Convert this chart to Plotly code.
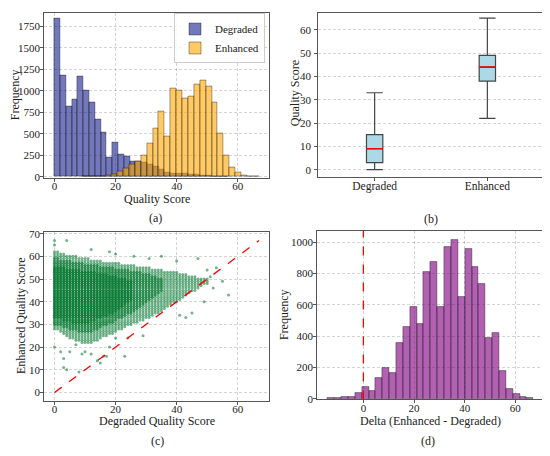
import plotly.graph_objects as go
from plotly.subplots import make_subplots

# ---- data ----
# (a) histograms, 30 bins each
deg_bin_start, deg_bin_width = 0.0, 1.9
deg_counts = [1845, 1175, 815, 905, 1165, 1000, 860, 670, 520, 225,
              400, 265, 240, 185, 185, 165, 140, 120, 85, 50,
              45, 40, 35, 30, 25, 20, 12, 8, 4, 2]
enh_bin_start, enh_bin_width = 9.0, 1.933
enh_counts = [2, 2, 3, 5, 15, 30, 60, 98, 150, 185,
              255, 385, 565, 760, 475, 1025, 1005, 910, 940, 1070,
              1120, 1055, 865, 500, 250, 115, 50, 20, 10, 5]

# (b) box statistics
box_labels = ["Degraded", "Enhanced"]
box_low = [0, 22]
box_q1 = [3, 38]
box_median = [9, 44]
box_q3 = [15, 49]
box_high = [33, 65]

# (c) scatter: per degraded score column, the band of enhanced scores
col_x = list(range(0, 51))
col_lo = [28, 28, 27, 26, 25, 24, 24, 23, 23, 22, 22, 22, 22, 23, 23, 24, 25, 25, 26, 26,
          27, 28, 28, 29, 30, 30, 31, 31, 32, 32, 33, 33, 34, 35, 35, 36, 37, 38, 39, 40,
          40, 41, 42, 43, 44, 45, 45, 46, 47, 48, 48]
col_hi = [62, 62, 61, 61, 60, 60, 60, 60, 59, 59, 59, 59, 58, 58, 58, 58, 57, 57, 57, 57,
          57, 57, 56, 56, 56, 56, 56, 55, 55, 55, 55, 55, 54, 54, 54, 54, 53, 53, 53, 53,
          53, 52, 52, 52, 51, 51, 51, 50, 50, 50, 50]
core_x = list(range(0, 36))
core_lo = [30, 30, 30, 29, 29, 28, 28, 28, 27, 27, 27, 27, 27, 28, 28, 29, 30, 30, 31, 31,
           32, 33, 33, 34, 35, 35, 36, 37, 38, 39, 40, 41, 42, 43, 44, 45]
core_hi = [59, 59, 58, 58, 58, 58, 57, 57, 57, 57, 56, 56, 56, 56, 56, 55, 55, 55, 55, 55,
           54, 54, 54, 54, 54, 53, 53, 53, 53, 52, 52, 52, 51, 51, 50, 50]
dense_x = list(range(0, 26))
dense_lo = [33, 33, 33, 32, 32, 32, 31, 31, 31, 31, 31, 31, 32, 32, 33, 33, 34, 34, 35, 35,
            36, 37, 38, 39, 40, 41]
dense_hi = [55, 55, 55, 55, 54, 54, 54, 54, 54, 53, 53, 53, 53, 53, 52, 52, 52, 52, 51, 51,
            51, 50, 50, 50, 49, 49]
stray_x = [0, 0, 0, 4, 2, 3, 3, 4, 5, 7, 8, 9, 10, 12, 14, 15, 16, 17, 18, 20, 23, 24, 29,
           12, 18, 20, 26, 35, 43, 45, 41, 49, 51, 53, 55, 57, 52, 50, 47, 40, 31]
stray_y = [67, 65, 20, 67, 18, 15, 11, 10, 18, 21, 9, 17, 18, 17, 14, 13, 16, 16, 20, 24, 16, 24, 25,
           63, 62, 61, 60, 60, 33, 35, 34, 40, 51, 55, 49, 43, 46, 54, 59, 58, 59]
diag_max = 67

# (d) delta histogram, 30 bins
delta_bin_start, delta_bin_width = -14.1, 2.71
delta_counts = [2, 2, 12, 12, 38, 75, 48, 135, 195, 165,
                355, 458, 585, 477, 807, 875, 587, 970, 1012, 648,
                955, 845, 735, 390, 420, 178, 60, 28, 8, 3]


def centers(start, width, n):
    return [start + width * (i + 0.5) for i in range(n)]


def expand(xs, los, his):
    px, py = [], []
    for x, lo, hi in zip(xs, los, his):
        for y in range(lo, hi + 1):
            px.append(x)
            py.append(y)
    return px, py


FONT = "Liberation Serif"
GRID = "rgba(0,0,0,0.17)"
EDGE = "rgba(0,0,0,0.45)"
TXT = "#222222"

fig = make_subplots(rows=2, cols=2)

# (a)
fig.add_trace(go.Bar(x=centers(deg_bin_start, deg_bin_width, len(deg_counts)), y=deg_counts,
                     width=deg_bin_width, name="Degraded",
                     marker=dict(color="rgba(20,30,140,0.6)", line=dict(color=EDGE, width=0.8))),
              row=1, col=1)
fig.add_trace(go.Bar(x=centers(enh_bin_start, enh_bin_width, len(enh_counts)), y=enh_counts,
                     width=enh_bin_width, name="Enhanced",
                     marker=dict(color="rgba(255,165,0,0.6)", line=dict(color=EDGE, width=0.8))),
              row=1, col=1)

# (b)
box_w = 0.145
for i, lab in enumerate(box_labels):
    pos = i + 1
    fig.add_trace(go.Box(x=[pos], q1=[box_q1[i]], median=[box_median[i]], q3=[box_q3[i]],
                         lowerfence=[box_low[i]], upperfence=[box_high[i]],
                         width=box_w, whiskerwidth=1, fillcolor="#add8e6",
                         line=dict(color="#444444", width=1.2), boxpoints=False,
                         showlegend=False, hoverinfo="skip"),
                  row=1, col=2)
    fig.add_trace(go.Scatter(x=[pos - box_w / 2, pos + box_w / 2],
                             y=[box_median[i], box_median[i]], mode="lines",
                             line=dict(color="red", width=1.6), showlegend=False),
                  row=1, col=2)

# (c)
layers = [expand(col_x, col_lo, col_hi), expand(core_x, core_lo, core_hi),
          expand(dense_x, dense_lo, dense_hi), (stray_x, stray_y)]
pt_color = "rgba(0,118,45,0.55)"
for xs, ys in layers:
    fig.add_trace(go.Scatter(x=xs, y=ys, mode="markers", showlegend=False,
                             marker=dict(size=3, color=pt_color, line=dict(width=0))),
                  row=2, col=1)
fig.add_trace(go.Scatter(x=[0, diag_max], y=[0, diag_max], mode="lines", showlegend=False,
                         line=dict(color="red", width=1.3, dash="dash")),
              row=2, col=1)

# (d)
fig.add_trace(go.Bar(x=centers(delta_bin_start, delta_bin_width, len(delta_counts)), y=delta_counts,
                     width=delta_bin_width, showlegend=False,
                     marker=dict(color="rgba(128,0,128,0.62)", line=dict(color=EDGE, width=0.8))),
              row=2, col=2)
fig.add_shape(type="line", x0=0, x1=0, y0=0, y1=1, xref="x4", yref="y4 domain", layer="above",
              line=dict(color="red", width=1.3, dash="dash"))

# the page puts the figure 8px in from the top-left corner, so the figure is
# 8px smaller and every reference pixel position is taken 8px back
W, H = 542, 448
OFF = 8


def px_x(v):
    return (v - OFF) / W


def px_y(v):
    return 1 - max(v - OFF, 0.5) / H


dom = {
    1: ([44.3, 269.3], [4.7, 177]),
    2: ([318.3, 543.7], [4.7, 176]),
    3: ([44.3, 269.3], [232.3, 405]),
    4: ([317.3, 543.7], [231, 403.3]),
}
axis_common = dict(showline=True, mirror=True, linecolor="#555555", linewidth=1,
                   gridcolor=GRID, griddash="3px,2px", gridwidth=0.8, zeroline=False,
                   ticks="outside", ticklen=3, tickcolor="#555555",
                   tickfont=dict(family=FONT, size=11, color=TXT))
for k, (xd, yd) in dom.items():
    sfx = "" if k == 1 else str(k)
    fig.layout["xaxis" + sfx].update(domain=[px_x(xd[0]), px_x(xd[1])], ticklabelstandoff=-5,
                                     **axis_common)
    fig.layout["yaxis" + sfx].update(domain=[px_y(yd[1]), px_y(yd[0])], ticklabelstandoff=-2,
                                     **axis_common)

fig.update_xaxes(range=[-3.35, 70.35], tickvals=[0, 20, 40, 60], row=1, col=1)
fig.update_yaxes(range=[-15, 1900], tickvals=[0, 250, 500, 750, 1000, 1250, 1500, 1750],
                 row=1, col=1)
fig.update_xaxes(range=[0.5, 2.5], tickvals=[1, 2], ticktext=box_labels, showgrid=False,
                 tickfont=dict(size=11.5), row=1, col=2)
fig.update_yaxes(range=[-3.25, 67], tickvals=[0, 10, 20, 30, 40, 50, 60],
                 ticklabelstandoff=1, row=1, col=2)
fig.update_xaxes(range=[-3.35, 70.35], tickvals=[0, 20, 40, 60], row=2, col=1)
fig.update_yaxes(range=[-3.8, 70.6], tickvals=[0, 10, 20, 30, 40, 50, 60, 70], row=2, col=1)
fig.update_xaxes(range=[-18.2, 71.2], tickvals=[0, 20, 40, 60], row=2, col=2)
fig.update_yaxes(range=[-5, 1072], tickvals=[0, 200, 400, 600, 800, 1000], row=2, col=2)

# axis titles and panel captions (pixel positions from the reference)
labels = [
    ("Quality Score", 157, 198, 0), ("Frequency", 15, 92, -90),
    ("Quality Score", 295, 90, -90),
    ("Degraded Quality Score", 157, 425, 0), ("Enhanced Quality Score", 21, 318, -90),
    ("Delta (Enhanced - Degraded)", 430, 425, 0), ("Frequency", 284, 317, -90),
    ("(a)", 155, 218, 0), ("(b)", 431, 219, 0), ("(c)", 157, 446, 0), ("(d)", 428, 446, 0),
]
for txt, lx, ly, ang in labels:
    fig.add_annotation(text=txt, x=px_x(lx), y=px_y(ly), xref="paper", yref="paper",
                       showarrow=False, textangle=ang, xanchor="center", yanchor="middle",
                       font=dict(family=FONT, size=12, color=TXT))

fig.update_layout(
    width=W, height=H, margin=dict(l=0, r=0, t=0, b=0),
    paper_bgcolor="white", plot_bgcolor="white",
    barmode="overlay", bargap=0,
    font=dict(family=FONT, size=11, color=TXT),
    legend=dict(x=px_x(265), y=px_y(7), xanchor="right", yanchor="top",
                bgcolor="rgba(255,255,255,0.85)", bordercolor="#cccccc", borderwidth=1,
                font=dict(family=FONT, size=11), tracegroupgap=0, itemwidth=30),
)

fig.write_html("out.html")
